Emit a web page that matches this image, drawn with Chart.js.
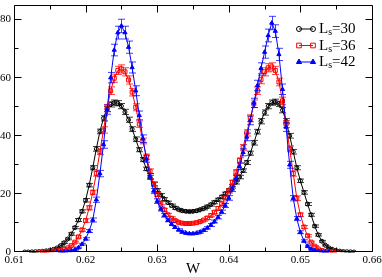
<!DOCTYPE html>
<html>
<head>
<meta charset="utf-8">
<script src="https://cdn.jsdelivr.net/npm/chart.js@4.4.1/dist/chart.umd.min.js"></script>
<style>
  html, body { margin: 0; padding: 0; background: #fff; }
  canvas { display: block; }
</style>
</head>
<body>
<canvas id="chart" width="382" height="277"></canvas>
<script>
// W grid shared by the three sets (each set starts at its own index)
const W = [
  0.6115, 0.6120, 0.6125, 0.6130, 0.6135, 0.6140, 0.6145, 0.6150, 0.6155, 0.6160,
  0.6165, 0.6170, 0.6175, 0.6180, 0.6185, 0.6190, 0.6195, 0.6200, 0.6205, 0.6210,
  0.6215, 0.6220, 0.6225, 0.6230, 0.6235, 0.6240, 0.6245, 0.6250, 0.6255, 0.6260,
  0.6265, 0.6270, 0.6275, 0.6280, 0.6285, 0.6290, 0.6295, 0.6300, 0.6305, 0.6310,
  0.6315, 0.6320, 0.6325, 0.6330, 0.6335, 0.6340, 0.6345, 0.6350, 0.6355, 0.6360,
  0.6365, 0.6370, 0.6375, 0.6380, 0.6385, 0.6390, 0.6395, 0.6400, 0.6405, 0.6410,
  0.6415, 0.6420, 0.6425, 0.6430, 0.6435, 0.6440, 0.6445, 0.6450, 0.6455, 0.6460,
  0.6465, 0.6470, 0.6475, 0.6480, 0.6485, 0.6490, 0.6495, 0.6500, 0.6505, 0.6510,
  0.6515, 0.6520, 0.6525, 0.6530, 0.6535, 0.6540, 0.6545, 0.6550, 0.6555, 0.6560,
  0.6565, 0.6570, 0.6575
];

// Ls = 30 (starts at W[0])
const START_30 = 0;
const P30 = [
  0.0, 0.0, 0.05, 0.1, 0.15, 0.25, 0.4, 0.6, 0.9, 1.4,
  2.2, 3.2, 4.5, 6.2, 8.4, 11.0, 14.0, 17.8, 23.0, 29.0,
  35.5, 41.5, 46.0, 49.2, 50.8, 51.4, 51.2, 50.2, 48.2, 45.5,
  42.3, 38.8, 35.2, 31.8, 28.6, 25.8, 23.4, 21.3, 19.6, 18.2,
  17.0, 16.0, 15.2, 14.6, 14.2, 14.0, 13.9, 14.0, 14.2, 14.6,
  15.0, 15.6, 16.3, 17.1, 18.0, 19.0, 20.1, 21.3, 22.6, 24.0,
  25.8, 28.0, 30.8, 34.0, 37.6, 41.4, 45.0, 48.0, 50.2, 51.4,
  51.7, 51.0, 48.8, 45.0, 40.0, 34.5, 29.0, 24.5, 20.5, 16.5,
  12.8, 8.9, 5.9, 3.7, 2.3, 1.4, 0.85, 0.5, 0.3, 0.15,
  0.1, 0.05, 0.0
];
const E30 = [
  0, 0, 0.05, 0.05, 0.05, 0.1, 0.1, 0.1, 0.15, 0.2,
  0.2, 0.3, 0.3, 0.4, 0.4, 0.5, 0.5, 0.6, 0.6, 0.7,
  0.8, 0.8, 0.9, 0.9, 0.9, 0.9, 0.9, 0.9, 0.9, 0.9,
  0.8, 0.8, 0.7, 0.7, 0.6, 0.6, 0.6, 0.5, 0.5, 0.5,
  0.5, 0.5, 0.5, 0.4, 0.4, 0.4, 0.4, 0.4, 0.4, 0.4,
  0.5, 0.5, 0.5, 0.5, 0.5, 0.5, 0.5, 0.5, 0.6, 0.6,
  0.6, 0.6, 0.7, 0.7, 0.8, 0.8, 0.9, 0.9, 0.9, 0.9,
  0.9, 0.9, 0.9, 0.9, 0.8, 0.8, 0.7, 0.6, 0.6, 0.5,
  0.5, 0.4, 0.4, 0.3, 0.2, 0.2, 0.15, 0.1, 0.1, 0.05,
  0.05, 0.05, 0
];

// Ls = 36 (starts at W[4])
const START_36 = 4;
const P36 = [
  0.0, 0.05, 0.1, 0.15, 0.25, 0.4, 0.6, 0.9, 1.4, 2.2,
  3.4, 5.2, 7.6, 10.8, 15.2, 20.5, 27.0, 34.5, 42.0, 49.5,
  55.5, 59.8, 62.5, 63.0, 62.0, 59.2, 55.0, 49.8, 44.0, 38.2,
  32.8, 27.8, 23.4, 19.8, 16.8, 14.5, 12.8, 11.6, 10.8, 10.2,
  9.9, 9.8, 9.8, 9.9, 10.1, 10.5, 11.0, 11.7, 12.6, 13.7,
  15.0, 16.6, 18.6, 21.0, 24.0, 27.5, 31.5, 36.0, 41.0, 46.0,
  51.0, 55.5, 59.3, 62.0, 63.4, 63.7, 62.5, 58.5, 52.0, 44.0,
  35.5, 27.0, 18.5, 12.8, 8.6, 5.6, 3.4, 2.0, 1.0, 0.5,
  0.25, 0.1, 0.05, 0.0
];
const E36 = [
  0, 0.05, 0.05, 0.05, 0.1, 0.1, 0.1, 0.15, 0.2, 0.2,
  0.3, 0.4, 0.5, 0.6, 0.7, 0.8, 0.9, 1.0, 1.1, 1.2,
  1.3, 1.4, 1.4, 1.4, 1.4, 1.4, 1.3, 1.2, 1.1, 1.0,
  0.9, 0.8, 0.7, 0.6, 0.6, 0.5, 0.5, 0.5, 0.4, 0.4,
  0.4, 0.4, 0.4, 0.4, 0.4, 0.4, 0.4, 0.5, 0.5, 0.5,
  0.6, 0.6, 0.6, 0.7, 0.7, 0.8, 0.9, 1.0, 1.1, 1.2,
  1.3, 1.3, 1.4, 1.4, 1.4, 1.4, 1.4, 1.3, 1.3, 1.2,
  1.0, 0.9, 0.8, 0.6, 0.5, 0.4, 0.3, 0.2, 0.15, 0.1,
  0.05, 0.05, 0.05, 0
];

// Ls = 42 (starts at W[9])
const START_42 = 9;
const P42 = [
  0.0, 0.05, 0.1, 0.2, 0.4, 0.8, 1.5, 2.7, 4.5, 7.2,
  11.0, 18.0, 27.0, 37.0, 49.0, 60.0, 69.5, 75.5, 77.8, 75.5,
  70.5, 63.5, 55.5, 47.0, 39.0, 32.0, 26.0, 21.0, 17.5, 14.8,
  12.6, 10.9, 9.6, 8.5, 7.6, 6.9, 6.5, 6.3, 6.3, 6.5,
  6.9, 7.5, 8.3, 9.3, 10.5, 12.0, 13.8, 16.0, 18.6, 21.7,
  25.3, 29.5, 34.3, 39.6, 45.3, 51.3, 57.3, 63.2, 68.8, 74.5,
  78.8, 76.0, 68.0, 56.0, 43.0, 30.0, 18.5, 11.5, 6.8, 3.8,
  2.0, 1.0, 0.45, 0.2, 0.1, 0.05, 0.0
];
const E42 = [
  0, 0.05, 0.05, 0.1, 0.1, 0.15, 0.2, 0.3, 0.4, 0.5,
  0.7, 0.9, 1.1, 1.3, 1.6, 1.8, 2.0, 2.2, 2.3, 2.2,
  2.1, 1.9, 1.7, 1.5, 1.3, 1.1, 1.0, 0.9, 0.8, 0.7,
  0.6, 0.5, 0.5, 0.4, 0.4, 0.4, 0.3, 0.3, 0.3, 0.3,
  0.4, 0.4, 0.4, 0.5, 0.5, 0.6, 0.6, 0.7, 0.8, 0.9,
  1.0, 1.1, 1.2, 1.3, 1.5, 1.6, 1.8, 1.9, 2.1, 2.2,
  2.3, 2.2, 2.1, 1.8, 1.5, 1.2, 0.9, 0.7, 0.5, 0.4,
  0.3, 0.2, 0.1, 0.05, 0.05, 0.05, 0
];

const SET_NAMES = ["30", "36", "42"];
const X_TICKS = [0.61, 0.62, 0.63, 0.64, 0.65, 0.66];
const X_MINOR = [0.615, 0.625, 0.635, 0.645, 0.655];
const Y_TICKS = [0, 20, 40, 60, 80];
const Y_MINOR = [10, 30, 50, 70];

const SERIF = "'Liberation Serif', 'Times New Roman', serif";

function toPoints(start, vals) {
  return vals.map((v, i) => ({ x: W[start + i], y: v }));
}

const sets = [
  { name: SET_NAMES[0], data: toPoints(START_30, P30), err: E30, color: "#000000",
    style: "circle", radius: 2, legendRadius: 2.5, fill: "rgba(0,0,0,0)" },
  { name: SET_NAMES[1], data: toPoints(START_36, P36), err: E36, color: "#ff0000",
    style: "rect", radius: 2.8, legendRadius: 3.3, fill: "rgba(0,0,0,0)" },
  { name: SET_NAMES[2], data: toPoints(START_42, P42), err: E42, color: "#0000ff",
    style: "triangle", radius: 2.4, legendRadius: 3, fill: "#0000ff" }
];

// error bars, drawn right after each set
const errorBars = {
  id: "errorBars",
  afterDatasetDraw(chart, args) {
    const s = sets[args.index];
    const { ctx, scales: { x, y } } = chart;
    ctx.save();
    ctx.strokeStyle = s.color;
    ctx.globalAlpha = 0.75;
    ctx.lineWidth = 1;
    s.data.forEach((p, i) => {
      const e = s.err[i];
      if (!e) return;
      const px = Math.round(x.getPixelForValue(p.x)) + 0.5;
      const y1 = y.getPixelForValue(p.y + e);
      const y2 = y.getPixelForValue(p.y - e);
      ctx.beginPath();
      ctx.moveTo(px, y1); ctx.lineTo(px, y2);
      ctx.moveTo(px - 3.5, y1); ctx.lineTo(px + 3.5, y1);
      ctx.moveTo(px - 3.5, y2); ctx.lineTo(px + 3.5, y2);
      ctx.stroke();
    });
    ctx.restore();
  }
};

// box frame with inward ticks on all four sides
const frameTicks = {
  id: "frameTicks",
  afterDraw(chart) {
    const { ctx, chartArea: a, scales: { x, y } } = chart;
    const L = a.left + 0.5, R = a.right + 0.5, T = a.top + 0.5, B = a.bottom - 0.5;
    ctx.save();
    ctx.strokeStyle = "#000";
    ctx.lineWidth = 1;
    ctx.beginPath();
    ctx.rect(L, T, R - L, B - T);
    const xt = (v, len) => {
      const px = Math.round(x.getPixelForValue(v)) + 0.5;
      ctx.moveTo(px, B); ctx.lineTo(px, B - len);
      ctx.moveTo(px, T); ctx.lineTo(px, T + len);
    };
    const yt = (v, len) => {
      const py = Math.round(y.getPixelForValue(v)) - 0.5;
      ctx.moveTo(L, py); ctx.lineTo(L + len, py);
      ctx.moveTo(R, py); ctx.lineTo(R - len, py);
    };
    X_TICKS.forEach(v => xt(v, 7));
    X_MINOR.forEach(v => xt(v, 4));
    Y_TICKS.forEach(v => yt(v, 7));
    Y_MINOR.forEach(v => yt(v, 4));
    ctx.stroke();
    ctx.restore();
  }
};

// legend: symbol-line-symbol and "L_s=NN"
const legendBox = {
  id: "legendBox",
  afterDraw(chart) {
    const ctx = chart.ctx;
    ctx.save();
    sets.forEach((s, i) => {
      const base = 33 + i * 16.5;
      const ly = base - 4;
      ctx.strokeStyle = s.color;
      ctx.lineWidth = 1;
      ctx.beginPath();
      ctx.moveTo(299, ly); ctx.lineTo(313, ly);
      ctx.stroke();
      [299, 313].forEach(mx => {
        ctx.fillStyle = s.fill;
        ctx.strokeStyle = s.color;
        Chart.helpers.drawPoint(ctx, { pointStyle: s.style, radius: s.legendRadius, rotation: 0, borderWidth: 1 }, mx, ly);
      });
      ctx.fillStyle = "#000";
      ctx.textBaseline = "alphabetic";
      ctx.textAlign = "left";
      ctx.font = "15px " + SERIF;
      ctx.fillText("L", 319, base);
      let tx = 319 + ctx.measureText("L").width;
      ctx.font = "10px " + SERIF;
      ctx.fillText("s", tx, base + 2);
      tx += ctx.measureText("s").width;
      ctx.font = "15px " + SERIF;
      ctx.fillText("=" + s.name, tx, base);
    });
    ctx.restore();
  }
};

new Chart(document.getElementById("chart"), {
  type: "scatter",
  data: {
    datasets: sets.map((s, i) => ({
      label: "Ls=" + s.name,
      data: s.data,
      showLine: true,
      borderColor: s.color,
      borderWidth: 1,
      pointStyle: s.style,
      pointRadius: s.radius,
      pointBorderWidth: 1,
      pointBorderColor: s.color,
      pointBackgroundColor: s.fill,
      order: 2 - i
    }))
  },
  options: {
    responsive: false,
    animation: false,
    devicePixelRatio: 1,
    layout: { padding: { top: 1, right: 10, left: 0, bottom: 0 } },
    plugins: { legend: { display: false }, tooltip: { enabled: false } },
    scales: {
      x: {
        type: "linear",
        min: 0.61, max: 0.66,
        grid: { display: false, drawTicks: false },
        border: { display: false },
        afterBuildTicks: s => { s.ticks = X_TICKS.map(v => ({ value: v })); },
        afterFit: s => { s.height = 25; s.paddingLeft = 0; s.paddingRight = 0; },
        ticks: {
          padding: 2,
          color: "#000",
          font: { family: SERIF, size: 11 },
          maxRotation: 0,
          callback: v => v.toFixed(2)
        },
        title: {
          display: true, text: "W", color: "#000",
          font: { family: SERIF, size: 15 },
          padding: { top: 0, bottom: -1 }
        }
      },
      y: {
        type: "linear",
        min: 0, max: 85,
        grid: { display: false, drawTicks: false },
        border: { display: false },
        afterBuildTicks: s => { s.ticks = Y_TICKS.map(v => ({ value: v })); },
        afterFit: s => { s.width = 14; s.paddingTop = 0; s.paddingBottom = 0; },
        ticks: {
          padding: 3,
          color: "#000",
          font: { family: SERIF, size: 11 },
          callback: v => String(v)
        }
      }
    }
  },
  plugins: [errorBars, frameTicks, legendBox]
});
</script>
</body>
</html>
